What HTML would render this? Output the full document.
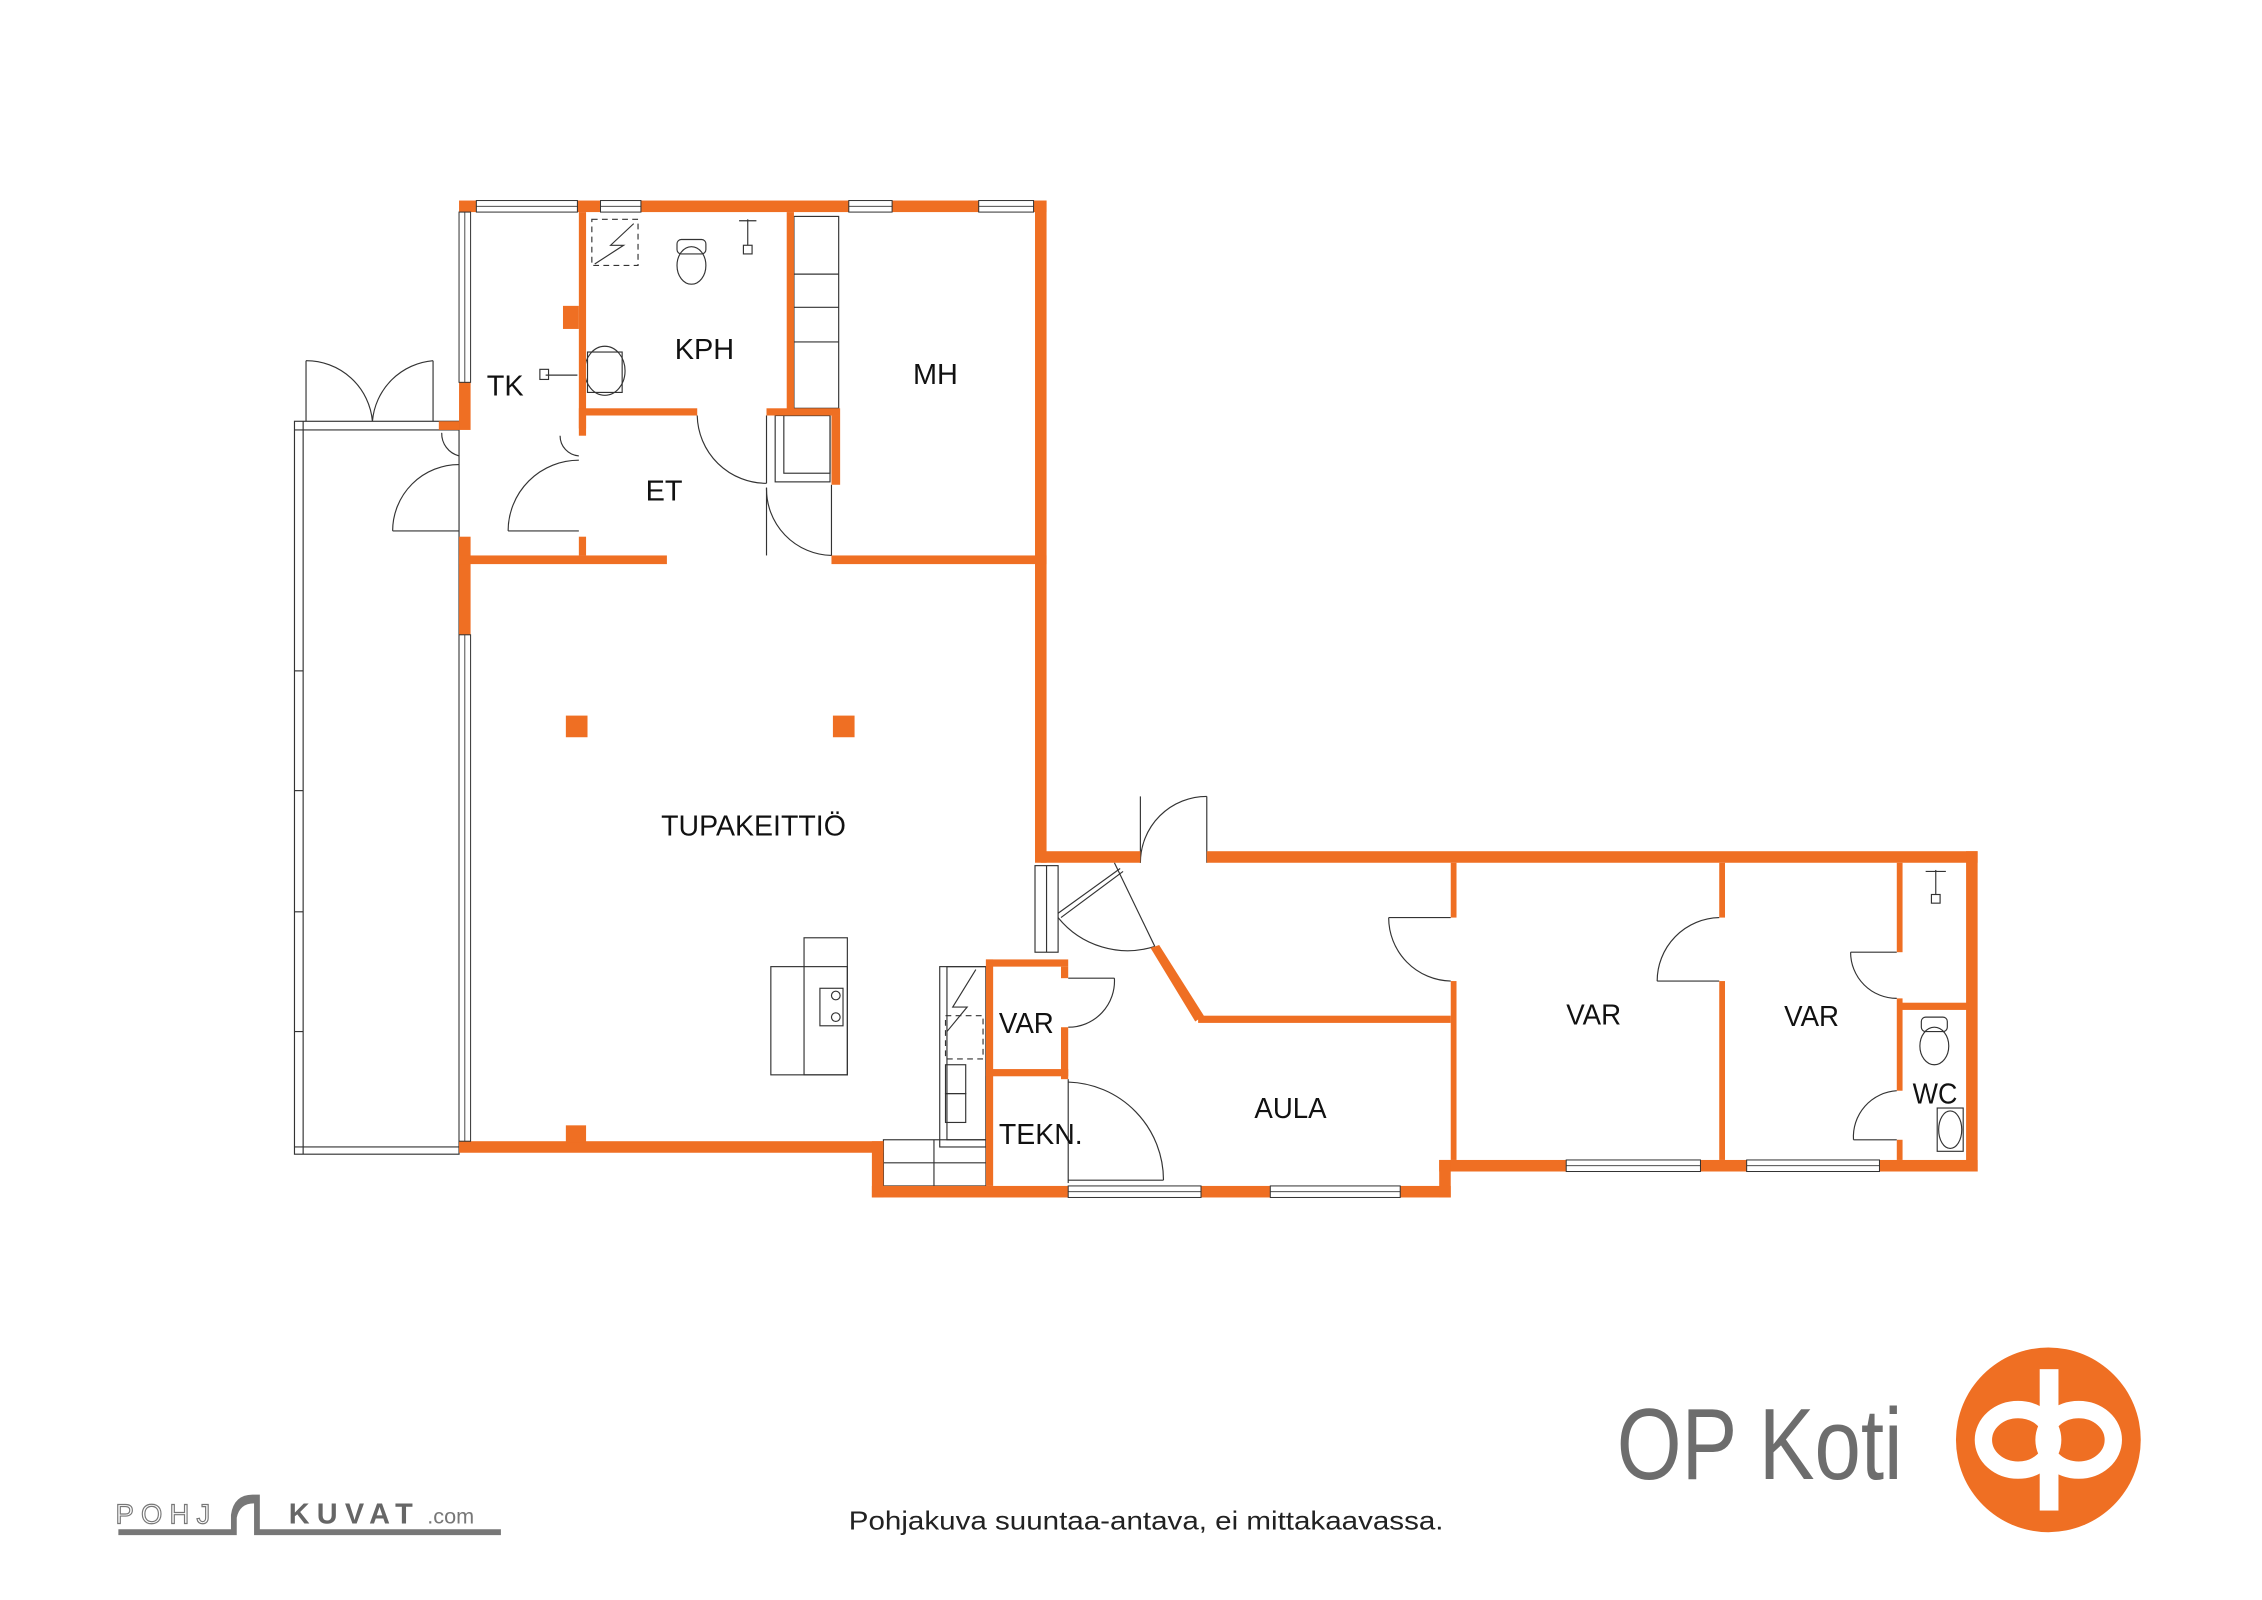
<!DOCTYPE html>
<html><head><meta charset="utf-8"><style>
html,body{margin:0;padding:0;background:#fff;}
svg{display:block;}
text{font-family:"Liberation Sans Narrow","Liberation Sans",sans-serif;fill:#111;}
</style></head><body>
<svg width="2262" height="1600" viewBox="0 0 1567 1109" preserveAspectRatio="none" xmlns="http://www.w3.org/2000/svg">
<rect width="1567" height="1109" fill="#fff"/>
<g fill="none" stroke="#333" stroke-width="0.8">
<rect x="204" y="292" width="114" height="508"/>
<line x1="210" y1="292" x2="210" y2="800"/>
<line x1="204" y1="298" x2="318" y2="298"/>
<line x1="204" y1="795" x2="318" y2="795"/>
<line x1="204" y1="465" x2="210" y2="465"/><line x1="204" y1="548" x2="210" y2="548"/><line x1="204" y1="632" x2="210" y2="632"/><line x1="204" y1="715" x2="210" y2="715"/>
<line x1="212" y1="250" x2="212" y2="292"/><line x1="300" y1="250" x2="300" y2="292"/>
<path d="M212 250 A46 46 0 0 1 258 292"/><path d="M300 250 A46 46 0 0 0 258 292"/>
<line x1="272" y1="368" x2="318" y2="368"/><path d="M272 368 A46 46 0 0 1 318 322"/>
<path d="M306 300 A16 16 0 0 0 318 316"/>
<line x1="352" y1="368" x2="401" y2="368"/><path d="M352 368 A49 49 0 0 1 401 319"/>
<path d="M388 302 A14 14 0 0 0 401 316"/>
<line x1="531" y1="288" x2="531" y2="335"/><path d="M483 288 A48 48 0 0 0 531 335"/>
<line x1="531" y1="338" x2="531" y2="385"/><path d="M531 338 A46 46 0 0 0 576 385"/>
<rect x="537" y="288" width="38" height="46"/>
<rect x="543" y="288" width="32" height="40"/>
<rect x="550" y="150" width="31" height="133"/>
<line x1="550" y1="190" x2="581" y2="190"/><line x1="550" y1="213" x2="581" y2="213"/><line x1="550" y1="237" x2="581" y2="237"/>
<rect x="410" y="152" width="32" height="32" stroke-dasharray="4,3"/>
<path d="M439 155 L423 170 L432 170 L412 183"/>
<ellipse cx="479" cy="184" rx="10" ry="13"/><rect x="469" y="166" width="20" height="10" rx="3"/>
<line x1="518" y1="152" x2="518" y2="170"/><rect x="515" y="170" width="6" height="6"/><line x1="512" y1="153" x2="524" y2="153"/>
<ellipse cx="419" cy="257" rx="14" ry="17"/><rect x="407" y="244" width="24" height="28"/>
<line x1="378" y1="260" x2="400" y2="260"/><rect x="374" y="256" width="6" height="7"/>
<rect x="534" y="670" width="53" height="75"/><rect x="557" y="650" width="30" height="95"/>
<rect x="568" y="685" width="16" height="26"/><circle cx="579" cy="690" r="3"/><circle cx="579" cy="705" r="3"/>
<rect x="651" y="670" width="32" height="125"/><rect x="656" y="670" width="27" height="120"/>
<path d="M676 672 L660 698 L670 698 L656 715"/>
<rect x="655" y="704" width="26" height="30" stroke-dasharray="4,3"/>
<rect x="655" y="738" width="14" height="20"/><rect x="655" y="758" width="14" height="20"/>
<rect x="612" y="790" width="71" height="32"/><line x1="612" y1="806" x2="683" y2="806"/><line x1="647" y1="790" x2="647" y2="822"/>
<line x1="740" y1="678" x2="772" y2="678"/><path d="M740 712 A32 32 0 0 0 772 678"/>
<line x1="740" y1="748" x2="740" y2="820"/><line x1="740" y1="818" x2="806" y2="818"/><path d="M740 750 A68 68 0 0 1 806 818"/>
<rect x="717" y="600" width="16" height="60"/><line x1="725" y1="600" x2="725" y2="660"/>
<line x1="772" y1="598" x2="800" y2="656"/>
<line x1="733" y1="633" x2="776" y2="602"/><line x1="735" y1="636" x2="778" y2="604"/>
<path d="M733 636 A62 62 0 0 0 800 656"/>
<line x1="790" y1="552" x2="790" y2="598"/><line x1="836" y1="552" x2="836" y2="598"/><path d="M790 598 A46 46 0 0 1 836 552"/>
<line x1="962" y1="636" x2="1005" y2="636"/><path d="M962 636 A44 44 0 0 0 1005 680"/>
<line x1="1148" y1="680" x2="1191" y2="680"/><path d="M1148 680 A44 44 0 0 1 1191 636"/>
<line x1="1282" y1="660" x2="1314" y2="660"/><path d="M1282 660 A32 32 0 0 0 1314 692"/>
<line x1="1284" y1="790" x2="1314" y2="790"/><path d="M1284 790 A32 32 0 0 1 1314 756"/>
<ellipse cx="1340" cy="725" rx="10" ry="13"/><rect x="1331" y="705" width="18" height="10" rx="3"/>
<ellipse cx="1351" cy="783" rx="8" ry="13"/><rect x="1342" y="768" width="18" height="30"/>
<line x1="1341" y1="603" x2="1341" y2="620"/><rect x="1338" y="620" width="6" height="6"/><line x1="1334" y1="604" x2="1348" y2="604"/>
<line x1="576" y1="336" x2="576" y2="385"/>
</g>
<g fill="#ef6f23">
<rect x="318" y="139" width="407" height="8"/>
<rect x="717" y="139" width="8" height="459"/>
<rect x="318" y="265" width="8" height="33"/><rect x="304" y="292" width="14" height="6"/>
<rect x="318" y="372" width="8" height="68"/>
<rect x="318" y="791" width="294" height="8"/>
<rect x="392" y="780" width="14" height="12"/>
<rect x="392" y="496" width="15" height="15"/><rect x="577" y="496" width="15" height="15"/>
<rect x="401" y="147" width="5" height="150"/><rect x="390" y="212" width="11" height="16"/>
<rect x="401" y="283" width="82" height="5"/>
<rect x="531" y="283" width="51" height="5"/>
<rect x="545" y="147" width="5" height="138"/>
<rect x="576" y="288" width="6" height="48"/>
<rect x="576" y="385" width="149" height="6"/>
<rect x="318" y="385" width="144" height="6"/>
<rect x="401" y="288" width="5" height="14"/><rect x="401" y="372" width="5" height="13"/>
<rect x="721" y="590" width="69" height="8"/><rect x="836" y="590" width="534" height="8"/>
<rect x="1362" y="590" width="8" height="222"/>
<rect x="997" y="804" width="373" height="8"/>
<rect x="997" y="804" width="8" height="26"/>
<rect x="604" y="822" width="401" height="8"/>
<rect x="604" y="791" width="8" height="39"/>
<rect x="1005" y="598" width="4" height="38"/><rect x="1005" y="680" width="4" height="124"/>
<rect x="1191" y="598" width="4" height="38"/><rect x="1191" y="680" width="4" height="124"/>
<rect x="1314" y="598" width="4" height="62"/><rect x="1314" y="692" width="4" height="64"/><rect x="1314" y="790" width="4" height="14"/>
<rect x="1316" y="695" width="48" height="5"/>
<polygon points="797,657 803,655 834,704 828,708"/>
<rect x="830" y="704" width="175" height="5"/>
<rect x="683" y="665" width="5" height="157"/><rect x="683" y="665" width="57" height="5"/>
<rect x="735" y="670" width="5" height="8"/><rect x="735" y="712" width="5" height="36"/>
<rect x="683" y="741" width="57" height="5"/>
</g>
<g fill="#fff" stroke="#333" stroke-width="0.7">
<rect x="330" y="139" width="70" height="8"/><rect x="416" y="139" width="28" height="8"/><rect x="588" y="139" width="30" height="8"/><rect x="678" y="139" width="38" height="8"/>
<rect x="318" y="147" width="8" height="118"/><rect x="318" y="440" width="8" height="351"/>
<rect x="1085" y="804" width="93" height="8"/><rect x="1210" y="804" width="92" height="8"/>
<rect x="740" y="822" width="92" height="8"/><rect x="880" y="822" width="90" height="8"/>
</g>
<g stroke="#333" stroke-width="0.6">
<line x1="330" y1="143" x2="400" y2="143"/><line x1="416" y1="143" x2="444" y2="143"/><line x1="588" y1="143" x2="618" y2="143"/><line x1="678" y1="143" x2="716" y2="143"/>
<line x1="322" y1="147" x2="322" y2="265"/><line x1="322" y1="440" x2="322" y2="791"/>
<line x1="1085" y1="808" x2="1178" y2="808"/><line x1="1210" y1="808" x2="1302" y2="808"/>
<line x1="740" y1="826" x2="832" y2="826"/><line x1="880" y1="826" x2="970" y2="826"/>
</g>
<g font-size="20">
<text x="350" y="274" text-anchor="middle">TK</text>
<text x="488" y="249" text-anchor="middle">KPH</text>
<text x="648" y="266" text-anchor="middle">MH</text>
<text x="460" y="347" text-anchor="middle">ET</text>
<text x="458" y="579" textLength="128" lengthAdjust="spacingAndGlyphs">TUPAKEITTIÖ</text>
<text x="692" y="716" textLength="38" lengthAdjust="spacingAndGlyphs">VAR</text>
<text x="692" y="793" textLength="58" lengthAdjust="spacingAndGlyphs">TEKN.</text>
<text x="869" y="775" textLength="50" lengthAdjust="spacingAndGlyphs">AULA</text>
<text x="1085" y="710" textLength="38" lengthAdjust="spacingAndGlyphs">VAR</text>
<text x="1236" y="711" textLength="38" lengthAdjust="spacingAndGlyphs">VAR</text>
<text x="1325" y="765" textLength="31" lengthAdjust="spacingAndGlyphs">WC</text>
</g>
<text x="588" y="1060" textLength="412" lengthAdjust="spacingAndGlyphs" font-size="18" style="fill:#222">Pohjakuva suuntaa-antava, ei mittakaavassa.</text>
<text x="80" y="1056" font-size="19" letter-spacing="5" style="fill:#fff;stroke:#777;stroke-width:0.8">POHJ</text>
<text x="200" y="1056" font-size="20" font-weight="bold" letter-spacing="5" style="fill:#666">KUVAT</text>
<text x="296" y="1056" font-size="15" style="fill:#777">.com</text>
<path d="M82 1060 L160 1060 L160 1050 Q162 1036 175 1036 L180 1036 L180 1060 L347 1060 L347 1064 L176 1064 L176 1042 Q166 1042 164 1052 L164 1064 L82 1064 Z" fill="#777"/>
<text x="1120" y="1025" font-size="70" textLength="198" lengthAdjust="spacingAndGlyphs" style="fill:#6d6d6d">OP Koti</text>
<ellipse cx="1419" cy="998" rx="64" ry="64" fill="#ef6f23"/>
<ellipse cx="1398" cy="998" rx="24" ry="21" fill="none" stroke="#fff" stroke-width="12"/>
<ellipse cx="1440" cy="998" rx="24" ry="21" fill="none" stroke="#fff" stroke-width="12"/>
<rect x="1413" y="949" width="13" height="98" fill="#fff"/>
</svg>
</body></html>
